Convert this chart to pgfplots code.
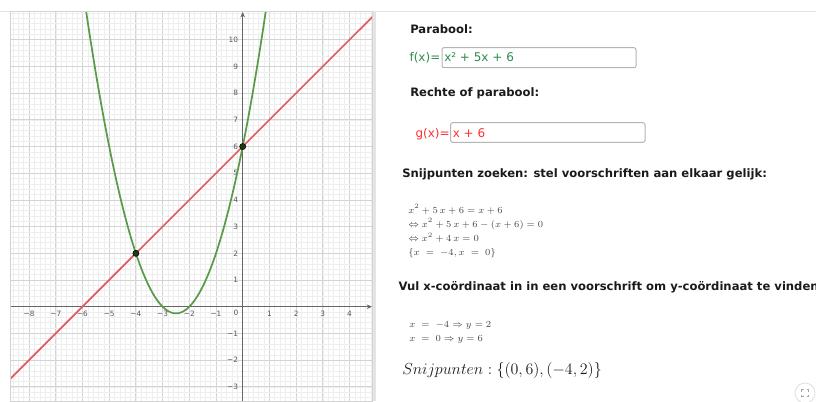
\documentclass[border=0pt]{standalone}
\usepackage{pgfplots}
\pgfplotsset{compat=1.18}
\usepackage{fontspec}
\setmainfont{DejaVu Sans}
\usetikzlibrary{arrows.meta}

\definecolor{gridmajor}{HTML}{D4D4D4}
\definecolor{gridminor}{HTML}{EEEEEE}
\definecolor{axisgray}{HTML}{666666}
\definecolor{labelgray}{HTML}{555555}
\definecolor{parab}{HTML}{5A9A4A}
\definecolor{rechte}{HTML}{E35C5C}
\definecolor{ptfill}{HTML}{1E3A10}
\definecolor{ftext}{HTML}{2E8B4E}
\definecolor{gtext}{HTML}{FF3030}
\definecolor{boxgray}{HTML}{B5B5B5}
\definecolor{headtext}{HTML}{1A1A1A}
\definecolor{mathtext}{HTML}{444444}
\definecolor{sepgray}{HTML}{E4E4E4}

\newcommand{\head}{\fontsize{8.7}{10}\selectfont\bfseries\color{headtext}}
\newcommand{\inp}{\fontsize{9}{11}\selectfont}
\newcommand{\mth}{\fontsize{7.0}{9}\selectfont\color{mathtext}}

\begin{document}
\begin{tikzpicture}[x=0.75pt,y=0.75pt]
\path[use as bounding box] (0,0) rectangle (816,401);
\clip (0,0) rectangle (816,401);

% top separator and splitter
\draw[sepgray, line width=0.75pt] (0,389.3) -- (816,389.3);
\fill[sepgray] (372,0) rectangle (375.5,389.3);

\begin{axis}[
  at={(7.5pt,0pt)}, anchor=south west,
  scale only axis, width=271.5pt, height=291.75pt,
  xmin=-8.715, xmax=4.843, ymin=-3.532, ymax=11.04,
  axis lines=middle,
  axis line style={draw=axisgray, line width=0.9pt, -{Stealth[length=4pt,width=3.5pt]}},
  xtick={-8,...,4}, ytick={-3,...,10},
  xticklabels={−8,−7,−6,−5,−4,−3,−2,−1,,1,2,3,4},
  yticklabels={−3,−2,−1,,1,2,3,4,5,6,7,8,9,10},
  minor xtick={-8.6,-8.4,...,4.8},
  minor ytick={-3.4,-3.2,...,11},
  grid=both,
  minor grid style={draw=gridminor, line width=0.4pt},
  major grid style={draw=gridmajor, line width=0.6pt},
  major tick length=0pt, minor tick length=0pt,
  ticklabel style={font=\fontsize{5.5}{6}\selectfont, text=labelgray},
  clip=true,
]
% g(x) = x + 6
\addplot[rechte, line width=1.3pt] coordinates {(-9,-3) (5,11)};
% f(x) = x^2 + 5x + 6
\addplot[parab, line width=1.3pt, smooth] coordinates {
(-6.0,12) (-5.9,11.31) (-5.8,10.64) (-5.7,9.99) (-5.6,9.36) (-5.5,8.75)
(-5.4,8.16) (-5.3,7.59) (-5.2,7.04) (-5.1,6.51) (-5.0,6) (-4.9,5.51)
(-4.8,5.04) (-4.7,4.59) (-4.6,4.16) (-4.5,3.75) (-4.4,3.36) (-4.3,2.99)
(-4.2,2.64) (-4.1,2.31) (-4.0,2) (-3.9,1.71) (-3.8,1.44) (-3.7,1.19)
(-3.6,0.96) (-3.5,0.75) (-3.4,0.56) (-3.3,0.39) (-3.2,0.24) (-3.1,0.11)
(-3.0,0) (-2.9,-0.09) (-2.8,-0.16) (-2.7,-0.21) (-2.6,-0.24) (-2.5,-0.25)
(-2.4,-0.24) (-2.3,-0.21) (-2.2,-0.16) (-2.1,-0.09) (-2.0,0) (-1.9,0.11)
(-1.8,0.24) (-1.7,0.39) (-1.6,0.56) (-1.5,0.75) (-1.4,0.96) (-1.3,1.19)
(-1.2,1.44) (-1.1,1.71) (-1.0,2) (-0.9,2.31) (-0.8,2.64) (-0.7,2.99)
(-0.6,3.36) (-0.5,3.75) (-0.4,4.16) (-0.3,4.59) (-0.2,5.04) (-0.1,5.51)
(0,6) (0.1,6.51) (0.2,7.04) (0.3,7.59) (0.4,8.16) (0.5,8.75) (0.6,9.36)
(0.7,9.99) (0.8,10.64) (0.9,11.31) (1.0,12)};
% intersection points
\addplot[only marks, mark=*, mark size=2.3pt,
  mark options={fill=ptfill, draw=black, line width=0.4pt}]
  coordinates {(-4,2) (0,6)};
\node[font=\fontsize{5.5}{6}\selectfont, text=labelgray] at (axis cs:-0.25,-0.24) {0};
\end{axis}

% graphics view frame
\draw[gridmajor, line width=0.6pt] (10,0) rectangle (372,389.3);

% algebra / text panel
\node[anchor=base west, inner sep=0] at (410,367.5) {\head Parabool:};
\node[anchor=base west, inner sep=0, text=ftext] at (409.3,340) {\inp f(x)=};
\draw[boxgray, line width=0.75pt, rounded corners=1.5pt, fill=white] (442,333.3) rectangle (636,353.3);
\node[anchor=base west, inner sep=0, text=ftext] at (444,340) {\inp x² + 5x + 6};

\node[anchor=base west, inner sep=0] at (410,305) {\head Rechte of parabool:};
\node[anchor=base west, inner sep=0, text=gtext] at (415.3,264) {\inp g(x)=};
\draw[boxgray, line width=0.75pt, rounded corners=1.5pt, fill=white] (450.7,258.7) rectangle (645,278.3);
\node[anchor=base west, inner sep=0, text=gtext] at (452.5,264) {\inp x + 6};

\node[anchor=base west, inner sep=0] at (402,223.5) {\head Snijpunten zoeken: stel voorschriften aan elkaar gelijk:};
\node[anchor=base west, inner sep=0] at (408,188) {\mth $x^2+5\,x+6=x+6$};
\node[anchor=base west, inner sep=0] at (408,174) {\mth $\Leftrightarrow x^2+5\,x+6-(x+6)=0$};
\node[anchor=base west, inner sep=0] at (408,159.5) {\mth $\Leftrightarrow x^2+4\,x=0$};
\node[anchor=base west, inner sep=0] at (408,146) {\mth $\{x\;=\;-4,x\;=\;0\}$};

\node[anchor=base west, inner sep=0] at (398.3,111) {\head Vul x-coördinaat in in een voorschrift om y-coördinaat te vinden};
\node[anchor=base west, inner sep=0] at (409,73.3) {\mth $x\;=\;-4\Rightarrow y=2$};
\node[anchor=base west, inner sep=0] at (409,59.3) {\mth $x\;=\;0\Rightarrow y=6$};

\node[anchor=base west, inner sep=0] at (402,27) {\fontsize{11.7}{14}\selectfont\color{headtext}$Snijpunten:\{(0,6),(-4,2)\}$};

% fullscreen button
\draw[gray!25, fill=white, line width=0.6pt] (805,8) circle (10);
\begin{scope}[gray!70, line width=0.5pt]
\draw (801.5,9.5) -- (801.5,11.5) -- (803.5,11.5);
\draw (806.5,11.5) -- (808.5,11.5) -- (808.5,9.5);
\draw (801.5,6.5) -- (801.5,4.5) -- (803.5,4.5);
\draw (806.5,4.5) -- (808.5,4.5) -- (808.5,6.5);
\end{scope}
\end{tikzpicture}
\end{document}
